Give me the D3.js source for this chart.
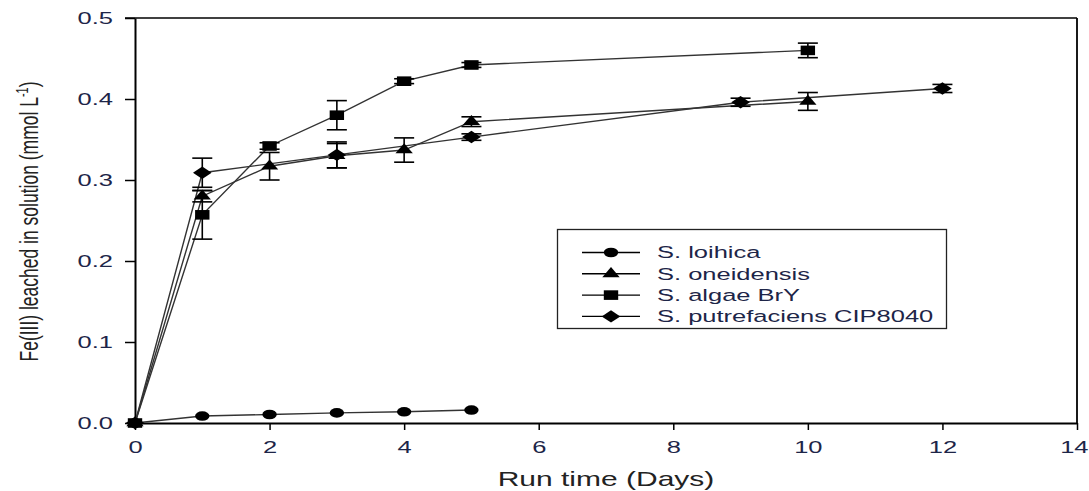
<!DOCTYPE html>
<html>
<head>
<meta charset="utf-8">
<script src="https://cdn.jsdelivr.net/npm/d3@7"></script>
<style>
  html, body { margin: 0; padding: 0; background: #fff; }
  svg { display: block; }
  text { font-family: "Liberation Sans", Arial, sans-serif; }
</style>
</head>
<body>
<svg id="chart" width="1089" height="491"></svg>
<script>
// ---- Data ----
const seriesNames = ["S. loihica", "S. oneidensis", "S. algae BrY", "S. putrefaciens CIP8040"];
const seriesShapes = ["circle", "triangle", "square", "diamond"];

const daysLoihica = [0, 1, 2, 3, 4, 5];
const feLoihica   = [0, 0.0086, 0.0105, 0.0125, 0.0138, 0.016];
const errLoihica  = [0, 0, 0, 0, 0, 0];

const daysOneidensis = [0, 1, 2, 3, 4, 5, 10];
const feOneidensis   = [0, 0.280, 0.317, 0.330, 0.337, 0.372, 0.397];
const errOneidensis  = [0, 0.007, 0.017, 0.015, 0.015, 0.006, 0.011];

const daysAlgae = [0, 1, 2, 3, 4, 5, 10];
const feAlgae   = [0, 0.257, 0.342, 0.380, 0.422, 0.442, 0.460];
const errAlgae  = [0, 0.030, 0.004, 0.018, 0.003, 0.003, 0.009];

const daysPutrefaciens = [0, 1, 3, 5, 9, 12];
const fePutrefaciens   = [0, 0.309, 0.331, 0.353, 0.396, 0.413];
const errPutrefaciens  = [0, 0.018, 0.016, 0.004, 0.005, 0.005];

const xTicks = [0, 2, 4, 6, 8, 10, 12, 14];
const yTicks = [0.0, 0.1, 0.2, 0.3, 0.4, 0.5];

const xTitle = "Run time (Days)";
const yTitleMain = "Fe(III) leached in solution (mmol L";
const yTitleSup = "-1";
const yTitleEnd = ")";

// ---- Build series table ----
const series = [
  { name: seriesNames[0], shape: seriesShapes[0], days: daysLoihica, vals: feLoihica, errs: errLoihica },
  { name: seriesNames[1], shape: seriesShapes[1], days: daysOneidensis, vals: feOneidensis, errs: errOneidensis },
  { name: seriesNames[2], shape: seriesShapes[2], days: daysAlgae, vals: feAlgae, errs: errAlgae },
  { name: seriesNames[3], shape: seriesShapes[3], days: daysPutrefaciens, vals: fePutrefaciens, errs: errPutrefaciens }
].map(s => ({ ...s, pts: s.days.map((d, i) => ({ x: d, y: s.vals[i], e: s.errs[i] })) }));

// ---- Layout ----
const svg = d3.select("#chart");
const W = 1089;
const X0 = 135, X1 = 1077, Y0 = 423, Y1 = 18;
const x = d3.scaleLinear().domain([0, 14]).range([X0, X1]);
const y = d3.scaleLinear().domain([0, 0.5]).range([Y0, Y1]);
const SX = 1.5; // horizontal stretch of the original picture
const textColor = "#1d2548";
const lineColor = "#333";

// custom diamond symbol
const diamondWide = {
  draw(ctx, size) {
    const h = Math.sqrt(size / 2);
    ctx.moveTo(0, -h); ctx.lineTo(h, 0); ctx.lineTo(0, h); ctx.lineTo(-h, 0); ctx.closePath();
  }
};
const symbolFor = {
  circle:   d3.symbol().type(d3.symbolCircle).size(Math.PI * 4.8 * 4.8),
  triangle: d3.symbol().type(d3.symbolTriangle).size(58),
  square:   d3.symbol().type(d3.symbolSquare).size(92),
  diamond:  d3.symbol().type(diamondWide).size(2 * 6.2 * 6.2)
};

// ---- Axes ----
const gy = svg.append("g").attr("transform", `translate(${X0},0)`)
  .call(d3.axisLeft(y).tickValues(yTicks).tickFormat(d3.format(".1f")).tickSize(10).tickSizeOuter(0));
gy.select(".domain").attr("stroke", "#000").attr("stroke-width", 2);
gy.selectAll(".tick line").attr("stroke", "#000").attr("stroke-width", 1.5);
gy.selectAll(".tick text")
  .attr("x", 0).attr("dy", null).attr("dominant-baseline", "central")
  .attr("transform", `translate(-22,0) scale(${SX},1)`)
  .attr("font-size", 17).attr("fill", textColor).attr("text-anchor", "end");

const gx = svg.append("g").attr("transform", `translate(0,${Y0})`)
  .call(d3.axisBottom(x).tickValues(xTicks).tickFormat(d3.format("d")).tickSize(7).tickSizeOuter(0));
gx.select(".domain").attr("stroke", "#000").attr("stroke-width", 2);
gx.selectAll(".tick line").attr("stroke", "#000").attr("stroke-width", 1.5);
gx.selectAll(".tick text")
  .attr("y", 0).attr("dy", null)
  .attr("font-size", 17).attr("fill", textColor)
  .attr("text-anchor", d => (x(d) + 15 > W ? "end" : "middle"))
  .attr("transform", d => (x(d) + 15 > W
      ? `translate(${W - 1 - x(d)},30) scale(${SX},1)`
      : `translate(0,30) scale(${SX},1)`));

// top and right frame
svg.append("line").attr("x1", X0 - 10).attr("x2", X1).attr("y1", Y1).attr("y2", Y1)
  .attr("stroke", "#000").attr("stroke-width", 1.5);
svg.append("line").attr("x1", X1).attr("x2", X1).attr("y1", Y1).attr("y2", Y0)
  .attr("stroke", "#000").attr("stroke-width", 1.8);

// ---- Titles ----
svg.append("text")
  .attr("transform", `translate(${(X0 + X1) / 2},486) scale(${SX},1)`)
  .attr("text-anchor", "middle").attr("font-size", 20).attr("fill", "#222")
  .text(xTitle);

const yt = svg.append("text")
  .attr("transform", `translate(38,${(Y0 + Y1) / 2 + 1}) scale(${SX},1) rotate(-90)`)
  .attr("text-anchor", "middle").attr("font-size", 17.5).attr("fill", "#222");
yt.append("tspan").text(yTitleMain);
yt.append("tspan").attr("font-size", 11).attr("dy", -7).text(yTitleSup);
yt.append("tspan").attr("dy", 7).text(yTitleEnd);

// ---- Series ----
const line = d3.line().x(d => x(d.x)).y(d => y(d.y));
const plot = svg.append("g");

series.forEach(s => {
  plot.append("path").datum(s.pts).attr("d", line)
    .attr("fill", "none").attr("stroke", lineColor).attr("stroke-width", 1.4);
});

series.forEach(s => {
  const eb = plot.append("g").selectAll("g").data(s.pts.filter(p => p.e > 0)).join("g")
    .attr("stroke", "#000").attr("stroke-width", 1.6);
  eb.append("line").attr("x1", p => x(p.x)).attr("x2", p => x(p.x))
    .attr("y1", p => y(p.y - p.e)).attr("y2", p => y(p.y + p.e));
  eb.append("line").attr("x1", p => x(p.x) - 10).attr("x2", p => x(p.x) + 10)
    .attr("y1", p => y(p.y - p.e)).attr("y2", p => y(p.y - p.e));
  eb.append("line").attr("x1", p => x(p.x) - 10).attr("x2", p => x(p.x) + 10)
    .attr("y1", p => y(p.y + p.e)).attr("y2", p => y(p.y + p.e));
});

series.forEach(s => {
  plot.append("g").selectAll("path").data(s.pts).join("path")
    .attr("d", symbolFor[s.shape])
    .attr("transform", p => `translate(${x(p.x)},${y(p.y)}) scale(${SX},1)`)
    .attr("fill", "#000");
});

// ---- Legend ----
const legend = svg.append("g");
legend.append("rect").attr("x", 557.5).attr("y", 229.5).attr("width", 389).attr("height", 99)
  .attr("fill", "#fff").attr("stroke", "#222").attr("stroke-width", 1.3);
const rowY = [252.5, 273.8, 295.1, 316.4];
series.forEach((s, i) => {
  const g = legend.append("g").attr("transform", `translate(0,${rowY[i]})`);
  g.append("line").attr("x1", 582).attr("x2", 640).attr("y1", 0).attr("y2", 0)
    .attr("stroke", "#000").attr("stroke-width", 1.4);
  g.append("path").attr("d", symbolFor[s.shape])
    .attr("transform", `translate(611,0) scale(${SX},1)`).attr("fill", "#000");
  g.append("text").attr("transform", `translate(657,0) scale(${SX},1)`)
    .attr("dominant-baseline", "central").attr("font-size", 17).attr("fill", textColor)
    .text(s.name);
});
</script>
</body>
</html>
